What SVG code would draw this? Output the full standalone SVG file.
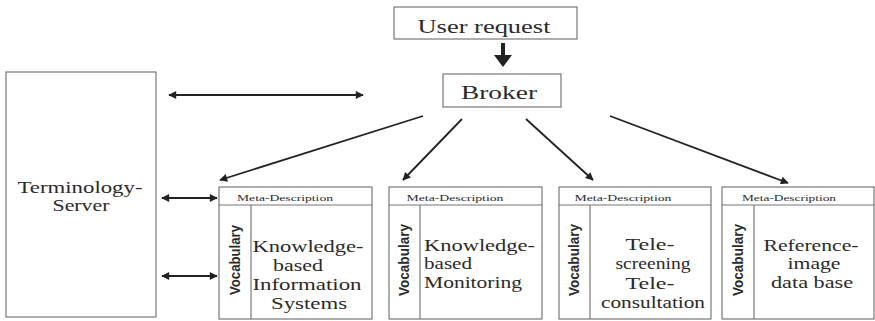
<svg xmlns="http://www.w3.org/2000/svg" width="875" height="321" viewBox="0 0 875 321">
<style>
.box{fill:#fff;stroke:#777;stroke-width:1.2}
.sep{stroke:#777;stroke-width:1.2;fill:none}
.t{font-family:"Liberation Serif","Times New Roman",serif;fill:#2a2a2a}
.big{font-size:16px}
.meta{font-size:9px;text-anchor:middle}
.voc{font-family:"Liberation Sans",Arial,sans-serif;font-size:15px;font-weight:bold;fill:#2a2a2a;text-anchor:middle}
.c{stroke:#222;stroke-width:1.8;fill:none}
</style>
<defs>
<marker id="ah" viewBox="0 0 10 10" refX="9" refY="5" markerWidth="10" markerHeight="8" markerUnits="userSpaceOnUse" orient="auto-start-reverse">
<path d="M0,0 L10,5 L0,10 Z" fill="#222"/>
</marker>
</defs>
<g id="terminology-server">
<rect class="box" x="6" y="72" width="150" height="245"/>
<text class="t" x="80" y="193" font-size="17" text-anchor="middle" textLength="125" lengthAdjust="spacingAndGlyphs">Terminology-</text>
<text class="t" x="81" y="211" font-size="17" text-anchor="middle" textLength="57" lengthAdjust="spacingAndGlyphs">Server</text>
</g>
<g id="user-request">
<rect class="box" x="394" y="7" width="183" height="32"/>
<text class="t" x="484" y="33" font-size="18" text-anchor="middle" textLength="133" lengthAdjust="spacingAndGlyphs">User request</text>
</g>
<g id="broker">
<rect class="box" x="443" y="74" width="118" height="33"/>
<text class="t" x="499" y="99" font-size="18" text-anchor="middle" textLength="76" lengthAdjust="spacingAndGlyphs">Broker</text>
</g>
<g id="kb-information-systems">
<rect class="box" x="219" y="187" width="153" height="132"/>
<line class="sep" x1="219" y1="205" x2="372" y2="205"/>
<line class="sep" x1="251" y1="205" x2="251" y2="319"/>
<text class="t meta" x="285" y="201" textLength="96" lengthAdjust="spacingAndGlyphs">Meta-Description</text>
<text class="voc" transform="translate(240,260) rotate(-90)" textLength="70" lengthAdjust="spacingAndGlyphs">Vocabulary</text>
<text class="t big" text-anchor="middle">
<tspan x="310" y="252" textLength="111" lengthAdjust="spacingAndGlyphs">Knowledge-</tspan>
<tspan x="300" y="271" textLength="50" lengthAdjust="spacingAndGlyphs">based</tspan>
<tspan x="309" y="290" textLength="109" lengthAdjust="spacingAndGlyphs">Information</tspan>
<tspan x="309" y="309" textLength="76" lengthAdjust="spacingAndGlyphs">Systems</tspan>
</text>
</g>
<g id="kb-monitoring">
<rect class="box" x="389" y="187" width="153" height="132"/>
<line class="sep" x1="389" y1="205" x2="542" y2="205"/>
<line class="sep" x1="420" y1="205" x2="420" y2="319"/>
<text class="t meta" x="455" y="201" textLength="97" lengthAdjust="spacingAndGlyphs">Meta-Description</text>
<text class="voc" transform="translate(409,260) rotate(-90)" textLength="72" lengthAdjust="spacingAndGlyphs">Vocabulary</text>
<text class="t big">
<tspan x="424" y="251" textLength="111" lengthAdjust="spacingAndGlyphs">Knowledge-</tspan>
<tspan x="424" y="269" textLength="48" lengthAdjust="spacingAndGlyphs">based</tspan>
<tspan x="424" y="288" textLength="98" lengthAdjust="spacingAndGlyphs">Monitoring</tspan>
</text>
</g>
<g id="telescreening">
<rect class="box" x="559" y="187" width="152" height="132"/>
<line class="sep" x1="559" y1="205" x2="711" y2="205"/>
<line class="sep" x1="590" y1="205" x2="590" y2="319"/>
<text class="t meta" x="623" y="201" textLength="97" lengthAdjust="spacingAndGlyphs">Meta-Description</text>
<text class="voc" transform="translate(579,260) rotate(-90)" textLength="72" lengthAdjust="spacingAndGlyphs">Vocabulary</text>
<text class="t big" text-anchor="middle">
<tspan x="652" y="250" textLength="49" lengthAdjust="spacingAndGlyphs">Tele-</tspan>
<tspan x="655" y="269" textLength="75" lengthAdjust="spacingAndGlyphs">screening</tspan>
<tspan x="652" y="289" textLength="49" lengthAdjust="spacingAndGlyphs">Tele-</tspan>
<tspan x="653" y="308" textLength="104" lengthAdjust="spacingAndGlyphs">consultation</tspan>
</text>
</g>
<g id="reference-image-db">
<rect class="box" x="722" y="187" width="152" height="132"/>
<line class="sep" x1="722" y1="205" x2="874" y2="205"/>
<line class="sep" x1="754" y1="205" x2="754" y2="319"/>
<text class="t meta" x="789" y="201" textLength="94" lengthAdjust="spacingAndGlyphs">Meta-Description</text>
<text class="voc" transform="translate(743,260) rotate(-90)" textLength="72" lengthAdjust="spacingAndGlyphs">Vocabulary</text>
<text class="t big" text-anchor="middle">
<tspan x="813" y="251" textLength="95" lengthAdjust="spacingAndGlyphs">Reference-</tspan>
<tspan x="816" y="269" textLength="53" lengthAdjust="spacingAndGlyphs">image</tspan>
<tspan x="812" y="288" textLength="82" lengthAdjust="spacingAndGlyphs">data base</tspan>
</text>
</g>
<g id="connectors">
<path d="M501,43 H505 V55 H512 L503,67 L494,55 H501 Z" fill="#222"/>
<line class="c" x1="169" y1="95" x2="363" y2="95" marker-start="url(#ah)" marker-end="url(#ah)"/>
<line class="c" x1="162" y1="198" x2="217" y2="198" marker-start="url(#ah)" marker-end="url(#ah)"/>
<line class="c" x1="162" y1="276" x2="217" y2="276" marker-start="url(#ah)" marker-end="url(#ah)"/>
<line class="c" x1="423" y1="116" x2="220" y2="180" marker-end="url(#ah)"/>
<line class="c" x1="462" y1="119" x2="403" y2="180" marker-end="url(#ah)"/>
<line class="c" x1="526" y1="119" x2="593" y2="180" marker-end="url(#ah)"/>
<line class="c" x1="610" y1="116" x2="788" y2="183" marker-end="url(#ah)"/>
</g>
</svg>
